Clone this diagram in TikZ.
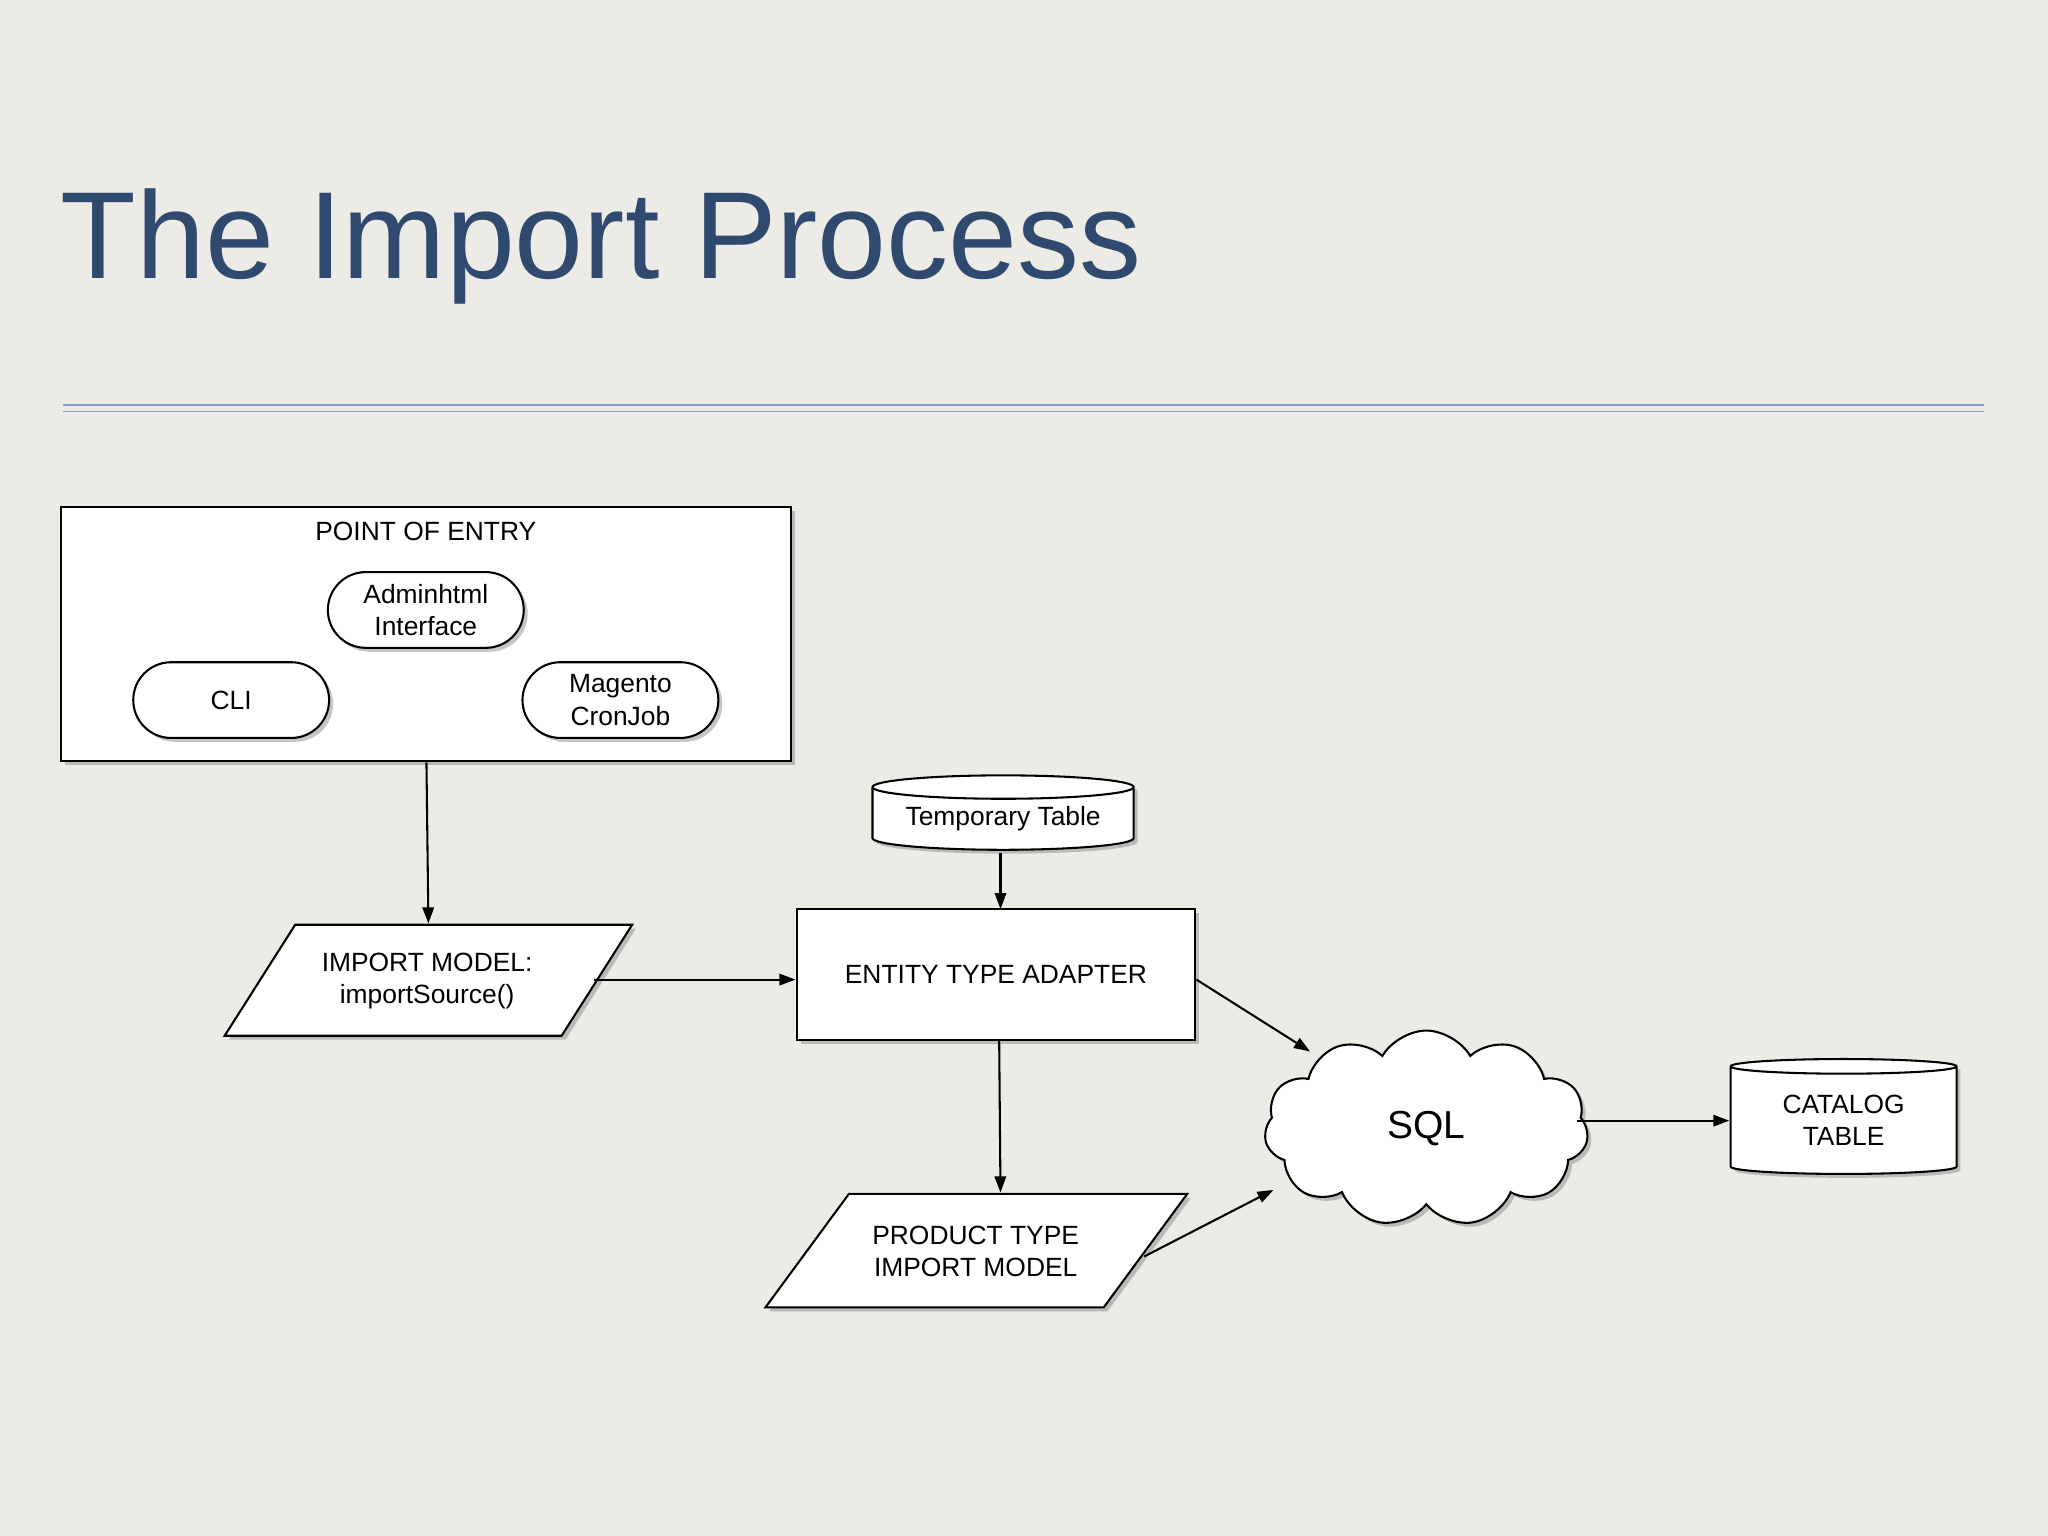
\documentclass[tikz,border=0pt]{standalone}
\usepackage{fontspec}
\setmainfont{Liberation Sans}
\usetikzlibrary{shapes.geometric,shapes.symbols,shadows,arrows.meta}
\definecolor{bg}{HTML}{EDEBE6}
\definecolor{titleblue}{HTML}{2F4A6E}
\definecolor{rule}{HTML}{8E9BD0}
\begin{document}
\begin{tikzpicture}[x=0.02cm,y=-0.02cm,
  shad/.style={drop shadow={shadow xshift=0.06cm,shadow yshift=-0.06cm,opacity=0.45}},
  base/.style={draw=black,fill=white,line width=0.9pt,shad,font=\fontsize{11.5}{14}\selectfont,align=center,inner sep=0pt},
  box/.style={base,rectangle},
  pill/.style={base,rounded corners=0.58cm,minimum width=3cm,minimum height=1.16cm},
  para/.style={draw=black,fill=white,line width=0.9pt,shad},
  ptext/.style={font=\fontsize{11.5}{14}\selectfont,align=center,inner sep=0pt},
  cyl/.style={base,cylinder,shape border rotate=90,aspect=0.12},
  arr/.style={-{Triangle[length=7pt,width=5pt]},line width=0.9pt}]
\useasboundingbox (0,0) rectangle (1568,1176);
\fill[bg] (0,0) rectangle (1568,1176);
\node[anchor=base west,text=titleblue,font=\fontsize{54}{58}\selectfont,inner sep=0pt] (title) at (46,213) {The Import Process};
\draw[rule,line width=0.7pt] (48,310) -- (1519,310);
\draw[rule,line width=0.7pt] (48,315) -- (1519,315);

\node[box,minimum width=11.18cm,minimum height=3.9cm] (poe) at (326.5,485.5) {};
\node[ptext] (poel) at (326,407) {POINT OF ENTRY};
\node[pill] (admin) at (326,467) {Adminhtml\\Interface};
\node[pill] (cli) at (177,536) {CLI};
\node[pill] (cron) at (475,536) {Magento\\CronJob};

\draw[para] (172,793) -- (226,708) -- (484,708) -- (430,793) -- cycle;
\node[ptext] (imp) at (327,751) {IMPORT MODEL:\\importSource()};
\draw[para] (586,1001) -- (650,914) -- (909,914) -- (845,1001) -- cycle;
\node[ptext] (prod) at (747,958) {PRODUCT TYPE\\IMPORT MODEL};

\node[cyl,minimum width=4cm,minimum height=1.14cm] (temp) at (768,627) {Temporary Table};
\node[box,minimum width=6.1cm,minimum height=2cm] (eta) at (762.5,746) {ENTITY TYPE ADAPTER};
\node[base,cloud,cloud puffs=11,cloud puff arc=120,aspect=1.65,minimum width=4.96cm,minimum height=3cm,font=\fontsize{17}{20}\selectfont] (sql) at (1092,864) {SQL};
\node[cyl,minimum width=3.46cm,minimum height=1.76cm] (cat) at (1411.5,858) {CATALOG\\TABLE};

\coordinate (impN) at (328,707);
\coordinate (impE) at (455,750);
\coordinate (etaW) at (609,750);
\coordinate (tempS) at (766,653);
\coordinate (etaN) at (766,696);
\coordinate (etaS) at (765,797);
\coordinate (prodN) at (766,913);
\coordinate (etaE) at (916,750);
\coordinate (sqlNW) at (1003,805);
\coordinate (prodE) at (876,962);
\coordinate (sqlSW) at (975,911);
\coordinate (sqlE) at (1207,858);
\coordinate (catW) at (1324,858);

\draw[arr] (poe.south) -- (impN);
\draw[arr] (tempS) -- (etaN);
\draw[arr] (impE) -- (etaW);
\draw[arr] (etaS) -- (prodN);
\draw[arr] (etaE) -- (sqlNW);
\draw[arr] (prodE) -- (sqlSW);
\draw[arr] (sqlE) -- (catW);
\end{tikzpicture}
\end{document}
